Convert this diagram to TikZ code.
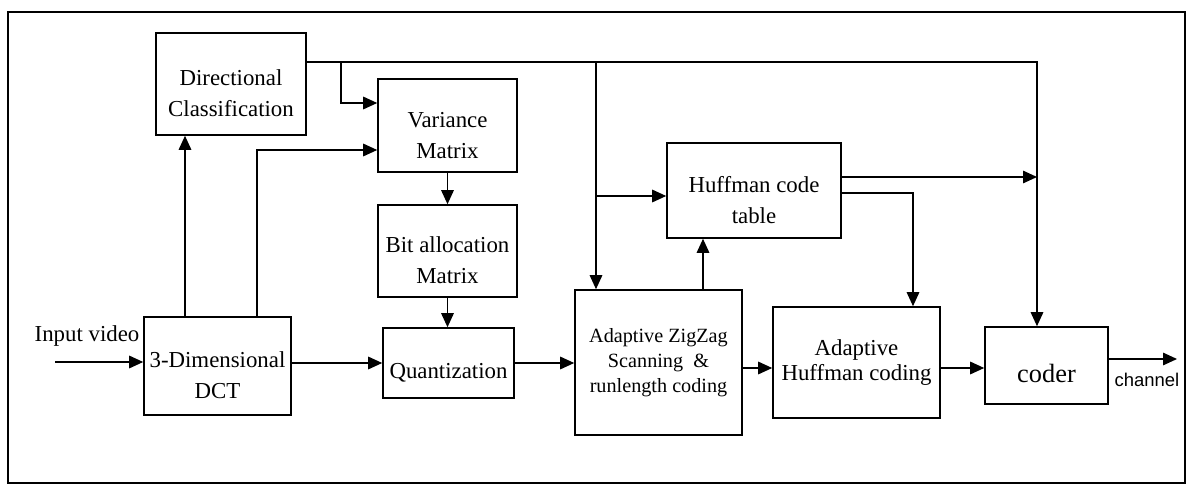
\documentclass[tikz,border=0pt]{standalone}
\usepackage{fontspec}
\setmainfont{Liberation Serif}
\setsansfont{Liberation Sans}
\usepackage{tikz}
\usetikzlibrary{
  arrows.meta,
  positioning
}
\newcommand{\boxfont}{\fontsize{13}{17.6}\selectfont}
\newcommand{\lowstrut}{\rule{0pt}{20pt}}

\begin{document}
\begin{tikzpicture}[x=0.02cm, y=-0.02cm,
    every node/.style={font=\boxfont},
    block/.style={draw, line width=0.9pt, align=center, inner sep=2pt},
    arr/.style={line width=0.8pt, -{Triangle[length=0.28cm,width=0.25cm]}}]
            \useasboundingbox (0,0) rectangle (1187,486);
            % Frame
            \draw[line width=1.4pt] (8,12) rectangle (1185,483);

            % Blocks
            \node[block, minimum width=3cm, minimum height=2.04cm] (dircls) at (231,84) {\lowstrut Directional\\Classification};
            \node[block, minimum width=2.78cm, minimum height=1.86cm] (variance) at (447.5,125.5) {\lowstrut Variance\\Matrix};
            \node[block, minimum width=2.78cm, minimum height=1.84cm] (bitalloc) at (447.5,251) {\lowstrut Bit allocation\\Matrix};
            \node[block, minimum width=2.94cm, minimum height=1.96cm] (dct) at (217.5,366) {\lowstrut 3-Dimensional\\DCT};
            \node[block, minimum width=2.62cm, minimum height=1.4cm] (quant) at (448.5,363) {\lowstrut Quantization};
            \node[block, minimum width=3.34cm, minimum height=2.9cm, font=\fontsize{11.5}{14.2}\selectfont] (zigzag) at (658.5,362.5) {Adaptive ZigZag\\Scanning \ \&\\runlength coding};
            \node[block, minimum width=3.48cm, minimum height=1.9cm] (hufftab) at (754,190.5) {\lowstrut Huffman code\\table};
            \node[block, minimum width=3.34cm, minimum height=2.22cm, font=\fontsize{13}{14.2}\selectfont] (adhuff) at (856.5,362.5) {Adaptive\\Huffman coding};
            \node[block, minimum width=2.46cm, minimum height=1.54cm, font=\fontsize{15}{18}\selectfont] (coder) at (1046.5,365.5) {\lowstrut coder};

            % Input
            \node (invideo) at (87,336) {Input video};
            \coordinate (inp) at (55,362);
            \draw[arr] (inp) -- (inp -| dct.west);

            % DCT outputs
            \draw[arr] (dct.north -| 185,0) -- (dircls.south -| 185,0);
            \draw[arr] (dct.north -| 257,0) |- (variance.west |- 0,150);
            \draw[arr] (dct.east |- quant.west) -- (quant.west);

            % Classification feeds
            \draw[arr] (dircls.east |- 0,62) -| (coder.north -| 1037,0);
            \draw[arr] (341,62) |- (variance.west |- 0,103);
            \draw[arr] (596,62) -- (zigzag.north -| 596,0);
            \draw[arr] (596,196) -- (hufftab.west |- 0,196);

            % Bit allocation
            \draw[arr] (variance.south) -- (bitalloc.north);
            \draw[arr] (bitalloc.south) -- (bitalloc.south |- quant.north);

            % Coding
            \draw[arr] (quant.east) -- (quant.east -| zigzag.west);
            \draw[arr] (zigzag.north -| 703,0) -- (hufftab.south -| 703,0);
            \draw[arr] (zigzag.east |- 0,368) -- (adhuff.west |- 0,368);
            \coordinate (merge) at (1037,177);
            \draw[arr] (hufftab.east |- merge) -- (merge);
            \draw[arr] (hufftab.east |- 0,193) -| (adhuff.north -| 913,0);
            \draw[arr] (adhuff.east |- 0,368) -- (coder.west |- 0,368);

            % Output
            \coordinate (chan) at (1177,359);
            \draw[arr] (coder.east |- chan) -- (chan);
            \node[font=\sffamily\fontsize{10.5}{12}\selectfont] (chanlbl) at (1147,380) {channel};
        \end{tikzpicture}
\end{document}
